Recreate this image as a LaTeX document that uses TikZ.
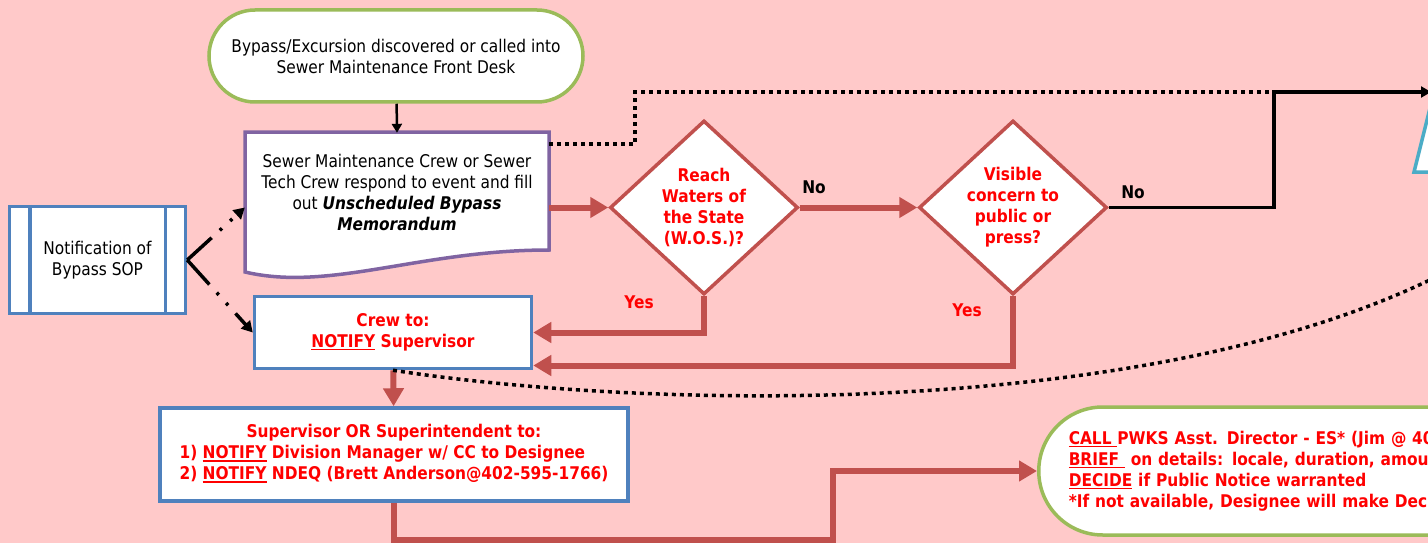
\documentclass[tikz,border=0pt]{standalone}
\usepackage{fontspec}
\setmainfont{DejaVu Sans}[FakeStretch=0.88]
\usepackage{tikz}
\usetikzlibrary{positioning,calc,shapes.geometric,arrows.meta}
\definecolor{bgpink}{RGB}{255,201,201}
\definecolor{termgreen}{RGB}{155,187,89}
\definecolor{memopurple}{RGB}{128,100,162}
\definecolor{boxblue}{RGB}{79,129,189}
\definecolor{flowred}{RGB}{192,80,77}
\definecolor{txtred}{RGB}{255,0,0}
\definecolor{tricyan}{RGB}{75,172,198}
\newcommand{\flowfont}{\fontsize{17.5}{21}\selectfont}
\newcommand{\ubar}[1]{\leavevmode\sbox0{#1}\rlap{\rule[-2.8pt]{\wd0}{1.5pt}}\usebox0}
\tikzset{
  term/.style      = {draw=termgreen, fill=white, line width=3.5pt, rounded corners=46pt, align=center},
  memoline/.style  = {draw=memopurple, fill=white, line width=3.5pt},
  procbox/.style   = {draw=boxblue, fill=white, line width=3.5pt, align=center},
  actbox/.style    = {draw=boxblue, fill=white, line width=3.5pt, align=center, text=txtred, font=\flowfont\bfseries},
  decision/.style  = {diamond, draw=flowred, fill=white, line width=3.5pt, aspect=1.08, minimum width=188pt,
                      minimum height=174pt, inner sep=0pt, align=center, text=txtred, font=\flowfont\bfseries},
  lbl/.style       = {font=\flowfont\bfseries, inner sep=0pt},
  redarrow/.style  = {draw=flowred, line width=6pt, -{Triangle[length=18pt,width=20pt]}},
  blkarrow/.style  = {draw=black, line width=3.5pt, -{Triangle[length=10pt,width=11pt]}},
  blkline/.style   = {draw=black, line width=2.5pt, -{Triangle[length=9pt,width=10pt]}},
  dotline/.style   = {draw=black, line width=3.5pt, dash pattern=on 4pt off 4pt},
  dashdot/.style   = {draw=black, line width=3.5pt, dash pattern=on 33pt off 11pt on 3pt off 11pt on 3pt off 11pt,
                      -{Triangle[length=11pt,width=12pt]}},
}
\begin{document}
\begin{tikzpicture}[x=1pt, y=1pt, font=\flowfont]
  \useasboundingbox (0,0) rectangle (1428,-543);
  \clip (0,0) rectangle (1428,-543);
  \fill[bgpink] (0,0) rectangle (1428,-543);

  % start
  \node[term, minimum width=374pt, minimum height=92pt] (start) at (396,-56)
    {Bypass/Excursion discovered or called into\\Sewer Maintenance Front Desk};

  % memorandum (document shape)
  \draw[memoline] (245,-132) -- (549,-132) -- (549,-250)
    .. controls (420,-250) and (330,-292) .. (245,-272) -- cycle;
  \node[inner sep=0pt, minimum width=304pt, minimum height=118pt, align=center] (memo) at (397,-192)
    {Sewer Maintenance Crew or Sewer\\Tech Crew respond to event and fill\\
     out \textbf{\textit{Unscheduled Bypass}}\\\textbf{\textit{Memorandum}}};

  % SOP
  \node[procbox, minimum width=176pt, minimum height=107pt] (sop) at (97.5,-260) {Notification of\\Bypass SOP};
  \draw[boxblue, line width=3.5pt] ([xshift=22pt]sop.north west) -- ([xshift=22pt]sop.south west);
  \draw[boxblue, line width=3.5pt] ([xshift=-22pt]sop.north east) -- ([xshift=-22pt]sop.south east);

  % actions
  \node[actbox, minimum width=277pt, minimum height=72pt] (crew) at (393,-332.5)
    {Crew to:\\\ubar{NOTIFY} Supervisor};
  \node[actbox, minimum width=468pt, minimum height=93pt] (sup) at (394,-454.5)
    {\begin{tabular}{@{}l@{}}
      \multicolumn{1}{@{}c@{}}{Supervisor OR Superintendent to:}\\
      1) \ubar{NOTIFY} Division Manager w/ CC to Designee\\
      2) \ubar{NOTIFY} NDEQ (Brett Anderson@402-595-1766)
     \end{tabular}};

  % decisions
  \node[decision] (d1) at (704,-207.5) {Reach\\Waters of\\the State\\(W.O.S.)?};
  \node[decision] (d2) at (1013,-207.5) {Visible\\concern to\\public or\\press?};

  % director call
  \node[term, anchor=west, minimum width=700pt, minimum height=128pt, rounded corners=64pt, inner xsep=24pt,
        text width=640pt, align=left, text=txtred, font=\flowfont\bfseries] (dec) at (1037,-471)
    {\ubar{CALL\ }PWKS Asst. Director - ES* (Jim @ 40\\
     \ubar{BRIEF\ } on details: locale, duration, amoun\\
     \ubar{DECIDE} if Public Notice warranted\\
     {*}If not available, Designee will make Dec};
  \draw[tricyan, fill=white, line width=3.5pt] (1414,-172) -- (1432,-100) -- (1450,-172) -- cycle;

  % labels
  \node[lbl] (no1) at (814,-187) {No};
  \node[lbl] (no2) at (1133,-192) {No};
  \node[lbl, text=txtred] (yes1) at (639,-302) {Yes};
  \node[lbl, text=txtred] (yes2) at (967,-310) {Yes};

  % helper points
  \coordinate (bend) at (635,-92);
  \coordinate (jog) at (1274,-92);
  \coordinate (offtop) at (1431,-92);
  \coordinate (offcurve) at (1440,-275);

  % connectors
  \draw[blkline] (start) -- (memo.north);
  \draw[redarrow] (memo.east |- d1.west) -- (d1.west);
  \draw[redarrow] (d1) -- (d2);
  \draw[redarrow] (d1.south) |- (crew.east);
  \draw[redarrow] (d2.south) |- ([yshift=-33pt]crew.east);
  \draw[redarrow] (crew) -- (sup);
  \draw[redarrow] (sup.south) |- (833,-540) |- (dec.west);
  \draw[dashdot] (sop.east) -- (memo.west |- d1.west);
  \draw[dashdot] (sop.east) -- (crew.west);
  \draw[dotline] ([yshift=-11pt]memo.north east) -| (bend) -- (jog);
  \draw[blkarrow] (d2.east) -| (jog) -- (offtop);
  \draw[dotline] (crew.south) .. controls (650,-410) and (1150,-420) .. (offcurve);
\end{tikzpicture}
\end{document}
